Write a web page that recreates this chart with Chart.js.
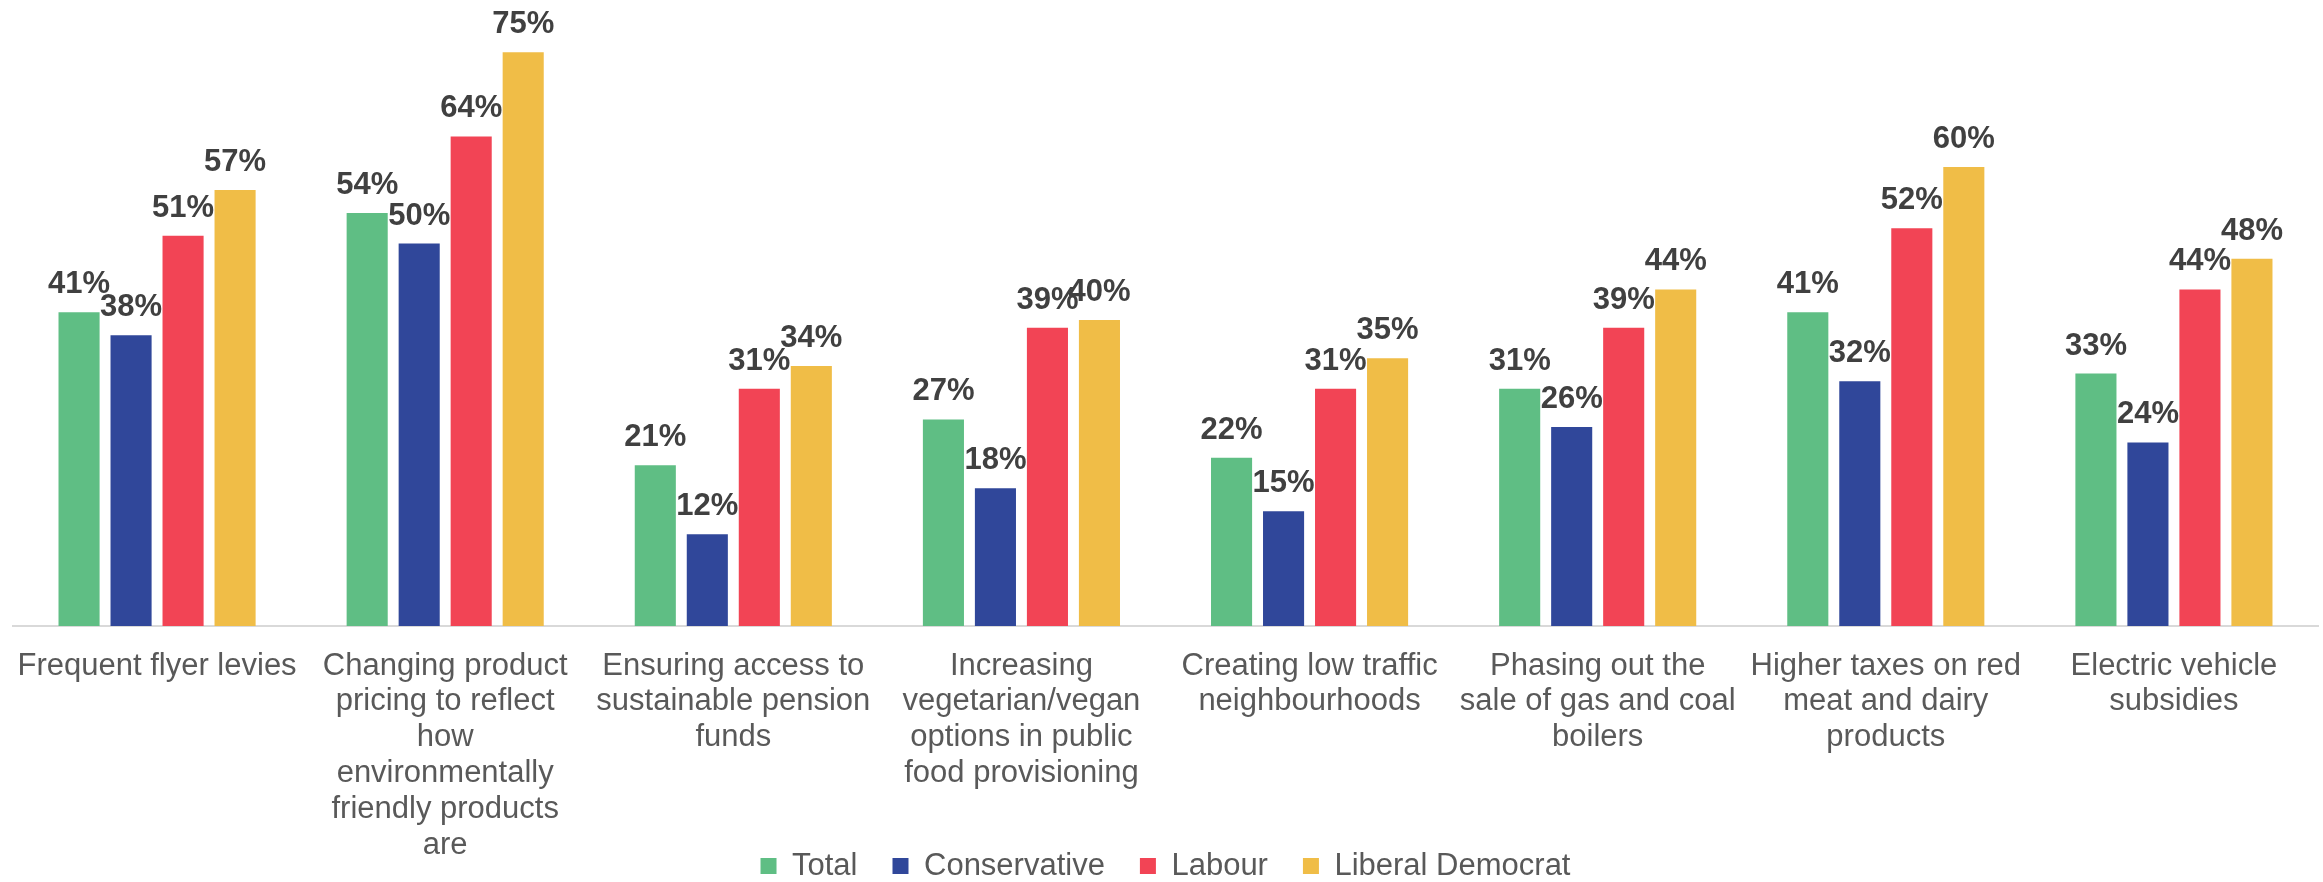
<!DOCTYPE html>
<html>
<head>
<meta charset="utf-8">
<script src="https://cdn.jsdelivr.net/npm/chart.js@4.4.1/dist/chart.umd.min.js"></script>
<style>
  html, body { margin: 0; padding: 0; background: #ffffff; }
  canvas { display: block; }
</style>
</head>
<body>
<canvas id="chart" width="2323" height="882"></canvas>
<script>
// Policy categories (multi-line labels as they wrap under the axis)
const categories = [
  'Frequent flyer levies',
  ['Changing product', 'pricing to reflect', 'how', 'environmentally', 'friendly products', 'are'],
  ['Ensuring access to', 'sustainable pension', 'funds'],
  ['Increasing', 'vegetarian/vegan', 'options in public', 'food provisioning'],
  ['Creating low traffic', 'neighbourhoods'],
  ['Phasing out the', 'sale of gas and coal', 'boilers'],
  ['Higher taxes on red', 'meat and dairy', 'products'],
  ['Electric vehicle', 'subsidies']
];

// Support (%) by group
const seriesNames = ['Total', 'Conservative', 'Labour', 'Liberal Democrat'];
const totalValues = [41, 54, 21, 27, 22, 31, 41, 33];
const conservativeValues = [38, 50, 12, 18, 15, 26, 32, 24];
const labourValues = [51, 64, 31, 39, 31, 39, 52, 44];
const libDemValues = [57, 75, 34, 40, 35, 44, 60, 48];

const seriesColors = ['#5FBE84', '#30479A', '#F24455', '#F0BD47'];
const FONT = "'Liberation Sans', Arial, sans-serif";

// Draws the percentage above each bar
const valueLabels = {
  id: 'valueLabels',
  afterDatasetsDraw(chart) {
    const ctx = chart.ctx;
    ctx.save();
    ctx.font = 'bold 31px ' + FONT;
    ctx.fillStyle = '#404040';
    ctx.textAlign = 'center';
    ctx.textBaseline = 'alphabetic';
    chart.data.datasets.forEach((ds, i) => {
      const meta = chart.getDatasetMeta(i);
      meta.data.forEach((bar, j) => {
        ctx.fillText(ds.data[j] + '%', bar.x, bar.y - 19);
      });
    });
    ctx.restore();
  }
};

// Lets the wrapped category labels run down behind the legend row
const extendLabelArea = {
  id: 'extendLabelArea',
  afterLayout(chart) {
    chart.scales.x.bottom = chart.height;
  }
};

const valueSets = [totalValues, conservativeValues, labourValues, libDemValues];

new Chart(document.getElementById('chart'), {
  type: 'bar',
  data: {
    labels: categories,
    datasets: seriesNames.map((name, i) => ({
      label: name,
      data: valueSets[i],
      backgroundColor: seriesColors[i],
      borderWidth: 0,
      barPercentage: 0.79,
      categoryPercentage: 0.722
    }))
  },
  options: {
    responsive: false,
    animation: false,
    devicePixelRatio: 1,
    layout: { padding: { left: 13, right: 5, top: 14, bottom: 0 } },
    plugins: {
      tooltip: { enabled: false },
      legend: {
        position: 'bottom',
        maxHeight: 66.5,
        labels: {
          boxWidth: 16,
          boxHeight: 16,
          padding: 35,
          color: '#595959',
          font: { family: FONT, size: 31 }
        }
      }
    },
    scales: {
      x: {
        grid: { display: false, drawTicks: false },
        border: { display: true, color: '#D9D9D9', width: 2 },
        ticks: {
          color: '#595959',
          padding: 22,
          maxRotation: 0,
          autoSkip: false,
          font: { family: FONT, size: 31, lineHeight: 1.16 }
        },
        afterFit(scale) {
          scale.height = 189.5;
          scale.paddingLeft = 0;
          scale.paddingRight = 0;
        }
      },
      y: {
        display: false,
        min: 0,
        max: 80
      }
    }
  },
  plugins: [valueLabels, extendLabelArea]
});
</script>
</body>
</html>
